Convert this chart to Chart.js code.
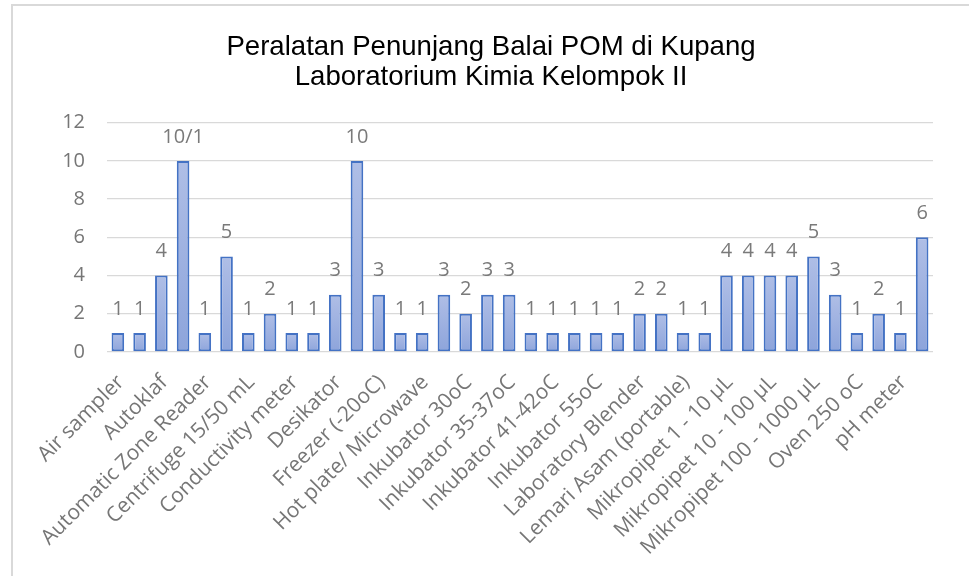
<!DOCTYPE html>
<html>
<head>
<meta charset="utf-8">
<script src="https://cdn.jsdelivr.net/npm/chart.js@4"></script>
<style>
  html, body { margin: 0; padding: 0; background: #fff; overflow: hidden; }
  #wrap { position: relative; width: 969px; height: 576px; }
  #frame { position: absolute; left: 11px; top: 4px; width: 2000px; height: 2000px;
           border-left: 2px solid #d9d9d9; border-top: 2px solid #d9d9d9; }
  #myChart { position: absolute; left: 0; top: 0; }
</style>
</head>
<body>
<div id="wrap">
  <div id="frame"></div>
  <canvas id="myChart" width="969" height="576"></canvas>
</div>
<script>
// equipment names (only every other one is printed on the axis, like the original)
const categories = [
  'Air sampler', 'Alat Destilasi', 'Autoklaf', 'Autoklaf Portable',
  'Automatic Zone Reader', 'Biosafety Cabinet', 'Centrifuge 15/50 mL', 'Colony Counter',
  'Conductivity meter', 'Deep Freezer (-80oC)', 'Desikator', 'Dispenser',
  'Freezer (-20oC)', 'Homogenizer', 'Hot plate/ Microwave', 'Inkubator 25oC',
  'Inkubator 30oC', 'Inkubator 32oC', 'Inkubator 35-37oC', 'Inkubator 37oC (CO2)',
  'Inkubator 41-42oC', 'Inkubator 44oC', 'Inkubator 55oC', 'Inkubator Shaker',
  'Laboratory Blender', 'Laminar Air Flow', 'Lemari Asam (portable)', 'Lemari Pendingin',
  'Mikropipet 1 - 10 µL', 'Mikropipet 2 - 20 µL', 'Mikropipet 10 - 100 µL', 'Mikropipet 20 - 200 µL',
  'Mikropipet 100 - 1000 µL', 'Mikroskop', 'Oven 250 oC', 'Penangas Air',
  'pH meter', 'Timbangan Analitik'
];

const jumlah = [
  1, 1, 4, 10, 1, 5, 1, 2, 1, 1, 3, 10, 3,
  1, 1, 3, 2, 3, 3, 1, 1, 1, 1, 1, 2,
  2, 1, 1, 4, 4, 4, 4, 5, 3, 1, 2, 1, 6
];

// text printed above each bar (one of them reads 10/1 in the original)
const valueLabels = [
  '1', '1', '4', '10/1', '1', '5', '1', '2', '1', '1', '3', '10', '3',
  '1', '1', '3', '2', '3', '3', '1', '1', '1', '1', '1', '2',
  '2', '1', '1', '4', '4', '4', '4', '5', '3', '1', '2', '1', '6'
];

const yTicks = [0, 2, 4, 6, 8, 10, 12];

const titleLines = ['Peralatan Penunjang Balai POM di Kupang', 'Laboratorium Kimia Kelompok II'];

const labelFont = '"Open Sans", sans-serif';

// draws the numbers above the bars
const barLabels = {
  id: 'barLabels',
  afterDatasetsDraw(chart) {
    const ctx = chart.ctx;
    const meta = chart.getDatasetMeta(0);
    ctx.save();
    ctx.font = '20px ' + labelFont;
    ctx.fillStyle = '#7a7a7a';
    ctx.textAlign = 'center';
    ctx.textBaseline = 'middle';
    meta.data.forEach((bar, i) => {
      ctx.fillText(valueLabels[i], bar.x, bar.y - 24);
    });
    ctx.restore();
  }
};

const barFill = (context) => {
  const chart = context.chart;
  if (!chart.chartArea) return '#9eb1e0';
  const y = chart.scales.y;
  const top = y.getPixelForValue(context.raw);
  const bottom = y.getPixelForValue(0);
  const g = chart.ctx.createLinearGradient(0, top, 0, bottom);
  g.addColorStop(0, '#afbee6');
  g.addColorStop(1, '#8da4db');
  return g;
};

const ctx = document.getElementById('myChart');
new Chart(ctx, {
  type: 'bar',
  data: {
    labels: categories,
    datasets: [{
      label: 'Jumlah',
      data: jumlah,
      backgroundColor: barFill,
      borderColor: '#4472c4',
      borderWidth: 2,
      borderSkipped: false,
      barPercentage: 0.58,
      categoryPercentage: 1.0
    }]
  },
  options: {
    responsive: false,
    animation: false,
    layout: { padding: { left: 49, right: 36, top: 0, bottom: 0 } },
    plugins: {
      legend: { display: false },
      tooltip: { enabled: false },
      title: {
        display: true,
        text: titleLines,
        color: '#000',
        font: { family: '"Liberation Sans", Arial, sans-serif', size: 27.6, weight: 'normal', lineHeight: 1.1 },
        padding: { top: 32, bottom: 30 }
      }
    },
    scales: {
      x: {
        grid: { display: false },
        border: { display: false },
        ticks: {
          autoSkip: false,
          minRotation: 45,
          maxRotation: 45,
          padding: 10,
          labelOffset: 3,
          color: '#767676',
          font: { family: labelFont, size: 21 },
          callback: function (value, index) {
            return index % 2 === 0 ? this.getLabelForValue(value) : '';
          }
        },
        afterFit: (scale) => { scale.height = 224; }
      },
      y: {
        min: 0,
        max: 12,
        afterBuildTicks: (scale) => { scale.ticks = yTicks.map(v => ({ value: v })); },
        grid: { color: '#d9d9d9', lineWidth: 1.3, drawTicks: false },
        border: { display: false },
        ticks: {
          padding: 22,
          color: '#767676',
          font: { family: labelFont, size: 20 }
        },
        afterFit: (scale) => { scale.width = 58; }
      }
    }
  },
  plugins: [barLabels]
});
</script>
</body>
</html>
